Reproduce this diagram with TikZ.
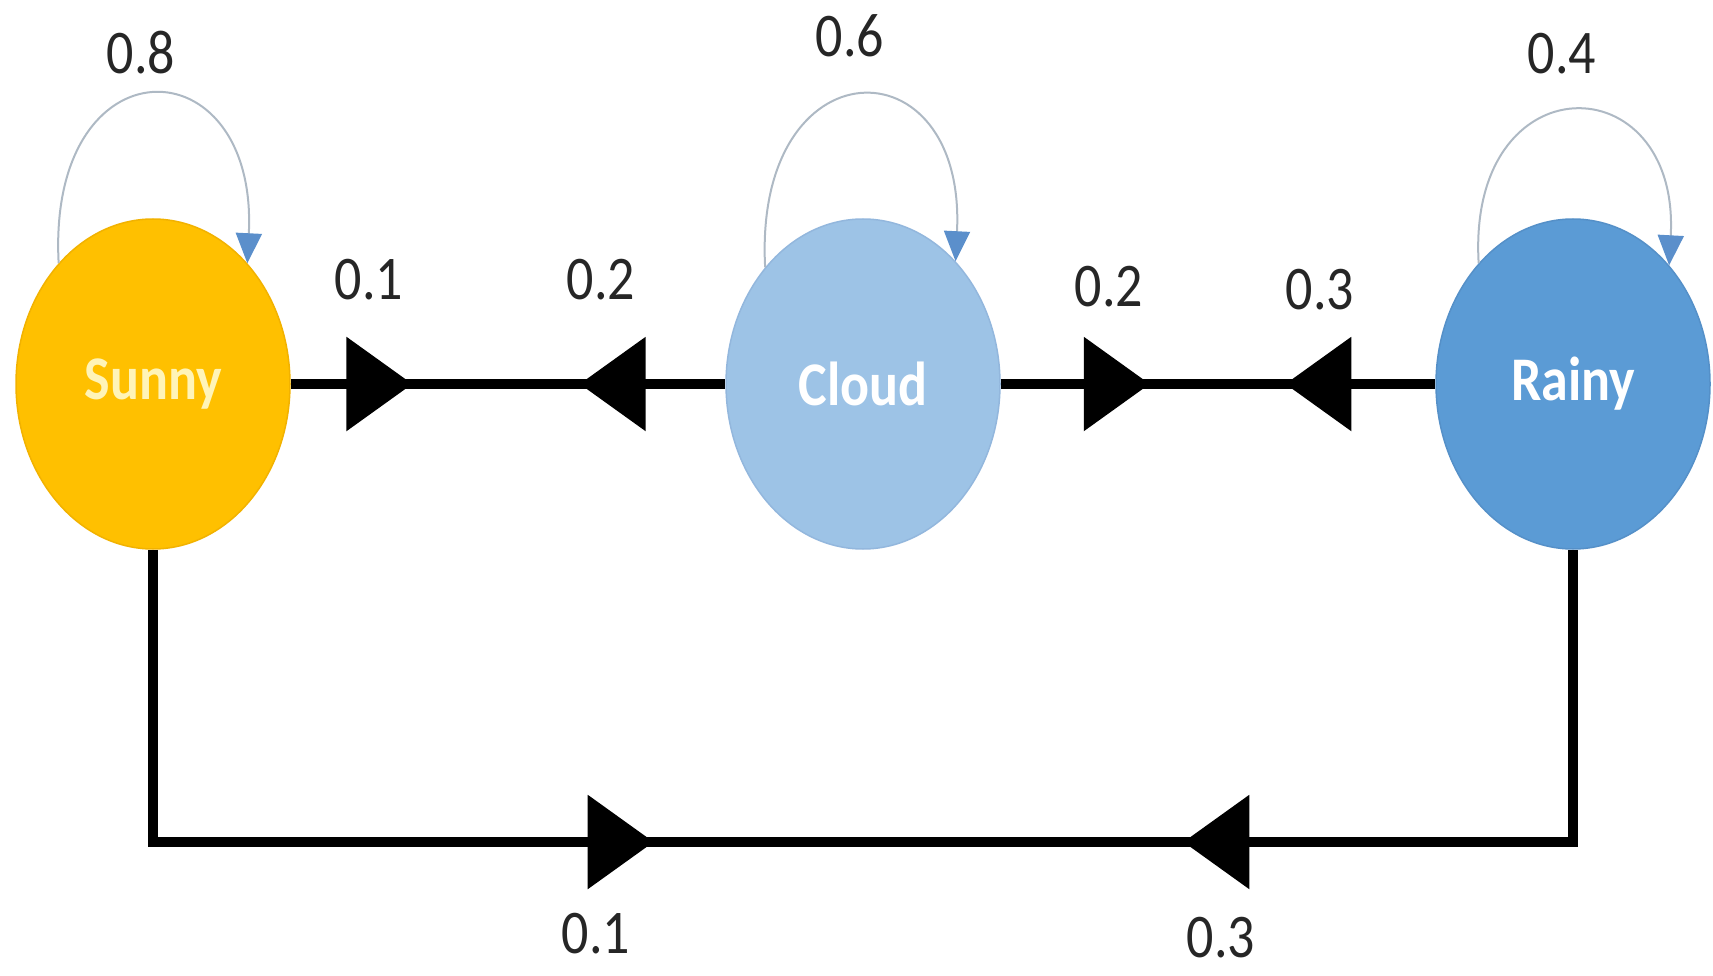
\documentclass[tikz,border=0pt]{standalone}
\usepackage{fontspec}
\setmainfont{Carlito}
\usetikzlibrary{shapes.geometric,arrows.meta,decorations.markings}
\definecolor{sunnyfill}{HTML}{FFC000}
\definecolor{sunnyedge}{HTML}{F2B200}
\definecolor{sunnytext}{HTML}{FFF4B8}
\definecolor{cloudfill}{HTML}{9DC3E6}
\definecolor{cloudedge}{HTML}{93B7DD}
\definecolor{rainyfill}{HTML}{5B9BD5}
\definecolor{rainyedge}{HTML}{5590C8}
\definecolor{loopgray}{HTML}{AEB9C4}
\definecolor{loopblue}{HTML}{5B8FCB}
\newcommand{\stretchedtext}[1]{\scalebox{1}[1.15]{#1}}
\tikzset{
  bigtip/.tip={Triangle[length=66pt, width=92pt]},
  state/.style={ellipse, minimum width=274pt, minimum height=330pt, inner sep=0pt,
    line width=1.5pt, font=\fontsize{54}{60}\selectfont\bfseries},
  prob/.style={font=\fontsize{54}{60}\selectfont, text=black!85, inner sep=0pt},
  conn/.style={line width=10pt, black},
  selfloop/.style={line width=2pt, loopgray,
    -{Triangle[length=30pt, width=26pt, color=loopblue, fill=loopblue]}},
  marksR/.style={postaction={decorate}, decoration={markings,
    mark=at position #1 with {\arrow{bigtip}}}},
  marksL/.style={postaction={decorate}, decoration={markings,
    mark=at position #1 with {\arrowreversed{bigtip}}}}
}
\begin{document}
\begin{tikzpicture}[x=1pt, y=-1pt]
\useasboundingbox (0,0) rectangle (1713,976);

\node[state, fill=sunnyfill, draw=sunnyedge, text=sunnytext] (sunny) at (153,384) {\stretchedtext{Sunny}};
\node[state, fill=cloudfill, draw=cloudedge, text=white] (cloud) at (863,384) {\stretchedtext{Cloud}};
\node[state, fill=rainyfill, draw=rainyedge, text=white] (rainy) at (1573,384) {\stretchedtext{Rainy}};

% horizontal connectors
\draw[conn, marksR=0.28] (sunny.east) -- (cloud.west);
\draw[conn, marksL=0.665] (sunny.east) -- (cloud.west);
\draw[conn, marksR=0.343] (cloud.east) -- (rainy.west);
\draw[conn, marksL=0.655] (cloud.east) -- (rainy.west);

% bottom connector
\coordinate (base) at (0,842);
\coordinate (bl) at (sunny.south |- base);
\coordinate (br) at (rainy.south |- base);
\draw[conn, line join=miter] (sunny.south) -- (bl) -- (br) -- (rainy.south);
\draw[conn, marksR=0.3526] (bl) -- (br);
\draw[conn, marksL=0.7256] (bl) -- (br);

% self loops
\draw[selfloop] (sunny.128) .. controls +(-12,-225) and +(11,-222) .. (sunny.52);
\draw[selfloop] (cloud.130) .. controls +(-12,-225) and +(11,-222) .. (cloud.53);
\draw[selfloop] (rainy.128) .. controls +(-12,-203) and +(11,-203) .. (rainy.51);

% labels
\node[prob] (l1) at (141,53) {\stretchedtext{0.8}};
\node[prob] (l2) at (850,36) {\stretchedtext{0.6}};
\node[prob] (l3) at (1562,54) {\stretchedtext{0.4}};
\node[prob] (l4) at (369,280) {\stretchedtext{0.1}};
\node[prob] (l5) at (601,280) {\stretchedtext{0.2}};
\node[prob] (l6) at (1109,287) {\stretchedtext{0.2}};
\node[prob] (l7) at (1320,290) {\stretchedtext{0.3}};
\node[prob] (l8) at (596,934) {\stretchedtext{0.1}};
\node[prob] (l9) at (1221,938) {\stretchedtext{0.3}};
\end{tikzpicture}
\end{document}
